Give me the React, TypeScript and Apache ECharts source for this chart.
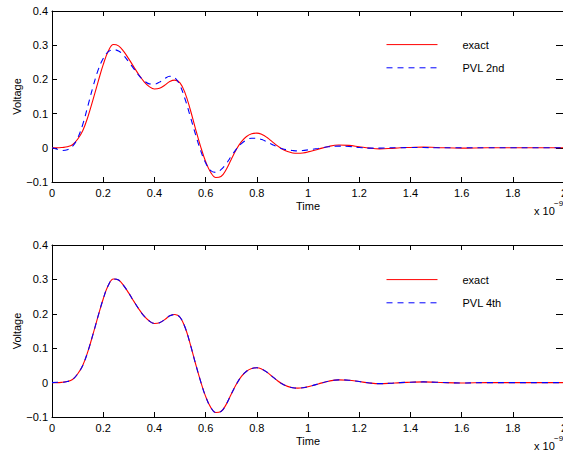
import React, { useEffect, useRef } from "react";
import * as echarts from "echarts";

// time axis (units of 1e-9 s)
const time = [
  0, 0.02, 0.04, 0.06, 0.08, 0.1, 0.12, 0.14, 0.16, 0.18,
  0.2, 0.22, 0.24, 0.26, 0.28, 0.3, 0.32, 0.34, 0.36, 0.38,
  0.4, 0.42, 0.44, 0.46, 0.48, 0.5, 0.52, 0.54, 0.56, 0.58,
  0.6, 0.62, 0.64, 0.66, 0.68, 0.7, 0.72, 0.74, 0.76, 0.78,
  0.8, 0.82, 0.84, 0.86, 0.88, 0.9, 0.92, 0.94, 0.96, 0.98,
  1.0, 1.04, 1.08, 1.12, 1.16, 1.2, 1.24, 1.28, 1.32, 1.36,
  1.4, 1.45, 1.5, 1.6, 1.7, 1.8, 1.9, 2.0,
];

const exactTop = [
  0, 0.0, 0.001, 0.003, 0.009, 0.025, 0.05, 0.09, 0.14, 0.193,
  0.243, 0.283, 0.302, 0.298, 0.282, 0.26, 0.236, 0.213, 0.193, 0.179,
  0.172, 0.174, 0.183, 0.194, 0.198, 0.19, 0.16, 0.112, 0.057, 0.005,
  -0.04, -0.072, -0.087, -0.084, -0.064, -0.034, -0.005, 0.018, 0.033, 0.041,
  0.043, 0.039, 0.03, 0.018, 0.006, -0.004, -0.011, -0.015, -0.016, -0.015,
  -0.012, -0.004, 0.004, 0.008, 0.007, 0.003, -0.001, -0.003, -0.002, 0.0,
  0.001, 0.002, 0.001, -0.001, 0.0, 0.0, 0.0, 0.0,
];

const pvl2nd = [
  0, -0.004, -0.008, -0.006, 0.004, 0.028, 0.068, 0.122, 0.178, 0.227,
  0.261, 0.281, 0.287, 0.283, 0.27, 0.251, 0.231, 0.211, 0.196, 0.187,
  0.186, 0.192, 0.202, 0.209, 0.205, 0.182, 0.142, 0.092, 0.041, -0.007,
  -0.044, -0.067, -0.072, -0.064, -0.047, -0.025, -0.004, 0.012, 0.023, 0.028,
  0.028, 0.024, 0.017, 0.01, 0.003, -0.003, -0.006, -0.008, -0.009, -0.008,
  -0.006, -0.002, 0.003, 0.005, 0.004, 0.001, -0.001, -0.001, 0.0, 0.0,
  0.001, 0.001, 0.0, 0.0, 0.0, 0.0, 0.0, 0.0,
];

const exactBottom = [
  0, 0.0, 0.001, 0.003, 0.009, 0.025, 0.05, 0.09, 0.14, 0.193,
  0.243, 0.283, 0.301, 0.298, 0.282, 0.26, 0.236, 0.213, 0.193, 0.179,
  0.172, 0.174, 0.183, 0.194, 0.198, 0.19, 0.16, 0.112, 0.057, 0.005,
  -0.04, -0.072, -0.087, -0.084, -0.064, -0.034, -0.005, 0.018, 0.033, 0.041,
  0.043, 0.039, 0.03, 0.018, 0.006, -0.004, -0.011, -0.015, -0.016, -0.015,
  -0.012, -0.004, 0.004, 0.008, 0.007, 0.003, -0.001, -0.003, -0.002, 0.0,
  0.001, 0.002, 0.001, -0.001, 0.0, 0.0, 0.0, 0.0,
];

const pvl4th = [
  0, 0.001, 0.001, 0.003, 0.009, 0.025, 0.05, 0.09, 0.14, 0.193,
  0.243, 0.283, 0.301, 0.298, 0.282, 0.26, 0.236, 0.213, 0.193, 0.179,
  0.172, 0.174, 0.183, 0.194, 0.198, 0.19, 0.16, 0.112, 0.057, 0.005,
  -0.04, -0.072, -0.087, -0.084, -0.064, -0.034, -0.005, 0.018, 0.033, 0.041,
  0.043, 0.039, 0.03, 0.018, 0.006, -0.004, -0.011, -0.015, -0.016, -0.015,
  -0.012, -0.004, 0.004, 0.008, 0.007, 0.003, -0.001, -0.003, -0.002, 0.0,
  0.001, 0.002, 0.001, -0.001, 0.0, 0.0, 0.0, 0.0,
];

const legendTop = ["exact", "PVL 2nd"];
const legendBottom = ["exact", "PVL 4th"];

const FONT = "'Liberation Sans', Arial, Helvetica, sans-serif";

const fmtY = (v: number) => {
  const s = Math.abs(v) < 1e-9 ? "0" : String(+v.toFixed(1));
  return s.replace("-", "\u2212");
};
const fmtX = (v: number) => String(+v.toFixed(1));

const tickStyle = (len: number) => ({ show: true, inside: true, length: len, lineStyle: { color: "#000", width: 1 } });
const lineStyleAxis = { show: true, onZero: false, lineStyle: { color: "#000", width: 1 } };

function makeAxes(gi: number) {
  const x = [
    {
      type: "value",
      gridIndex: gi,
      position: "bottom",
      min: 0,
      max: 2,
      interval: 0.2,
      axisLine: lineStyleAxis,
      axisTick: tickStyle(5),
      splitLine: { show: false },
      axisLabel: { color: "#000", fontSize: 11, fontFamily: FONT, margin: 5, formatter: fmtX },
      name: "Time",
      nameLocation: "middle",
      nameGap: 24,
      nameMoveOverlap: false,
      nameTextStyle: { color: "#000", fontSize: 11, fontFamily: FONT, verticalAlign: "middle" },
    },
    {
      type: "value",
      gridIndex: gi,
      position: "top",
      min: 0,
      max: 2,
      interval: 0.2,
      axisLine: lineStyleAxis,
      axisTick: tickStyle(5),
      splitLine: { show: false },
      axisLabel: { show: false },
    },
  ];
  const y = [
    {
      type: "value",
      gridIndex: gi,
      position: "left",
      min: -0.1,
      max: 0.4,
      interval: 0.1,
      axisLine: lineStyleAxis,
      axisTick: tickStyle(5),
      splitLine: { show: false },
      axisLabel: { color: "#000", fontSize: 11, fontFamily: FONT, margin: 4, formatter: fmtY },
      name: "Voltage",
      nameLocation: "middle",
      nameGap: 35,
      nameMoveOverlap: false,
      nameTextStyle: { color: "#000", fontSize: 11, fontFamily: FONT, verticalAlign: "middle", align: "center" },
    },
    {
      type: "value",
      gridIndex: gi,
      position: "right",
      min: -0.1,
      max: 0.4,
      interval: 0.1,
      axisLine: lineStyleAxis,
      axisTick: tickStyle(8),
      splitLine: { show: false },
      axisLabel: { show: false },
    },
  ];
  return { x, y };
}

function makeLegend(top: number, data: string[]) {
  return {
    orient: "vertical",
    left: 386,
    top,
    padding: 0,
    itemWidth: 51,
    itemHeight: 14,
    itemGap: 12,
    selectedMode: false,
    data,
    itemStyle: { opacity: 0 },
    lineStyle: { width: 1 },
    textStyle: { color: "#000", fontSize: 11, fontFamily: FONT, padding: [0, 0, 0, 20] },
  };
}

function line(name: string, values: number[], xi: number, yi: number, color: string, dashed: boolean) {
  return {
    type: "line",
    name,
    xAxisIndex: xi,
    yAxisIndex: yi,
    data: time.map((t, i) => [t, values[i]]),
    symbol: "none",
    showSymbol: false,
    smooth: 0.4,
    lineStyle: { color, width: 1.1, type: dashed ? [6, 5] : "solid" },
    itemStyle: { color },
  };
}

export default function App() {
  const ref = useRef<HTMLDivElement>(null);
  useEffect(() => {
    if (!ref.current) return;
    const chart = echarts.init(ref.current, undefined, { renderer: "svg" });
    const a0 = makeAxes(0);
    const a1 = makeAxes(1);
    const option: any = {
      animation: false,
      backgroundColor: "#fff",
      grid: [
        { left: 52, top: 11, width: 512, height: 171, outerBoundsMode: "none", containLabel: false },
        { left: 52, top: 245, width: 512, height: 172, outerBoundsMode: "none", containLabel: false },
      ],
      xAxis: [...a0.x, ...a1.x],
      yAxis: [...a0.y, ...a1.y],
      legend: [makeLegend(39, legendTop), makeLegend(274, legendBottom)],
      series: [
        line("exact", exactTop, 0, 0, "#ff0000", false),
        line("PVL 2nd", pvl2nd, 0, 0, "#0000ff", true),
        line("exact", exactBottom, 2, 2, "#ff0000", false),
        line("PVL 4th", pvl4th, 2, 2, "#0000ff", true),
      ],
      graphic: [
        { type: "text", left: 534, top: 205, style: { text: "x 10", fontSize: 11, fontFamily: FONT, fill: "#000" } },
        { type: "text", left: 554, top: 199, style: { text: "\u22129", fontSize: 8, fontFamily: FONT, fill: "#000" } },
        { type: "text", left: 534, top: 440, style: { text: "x 10", fontSize: 11, fontFamily: FONT, fill: "#000" } },
        { type: "text", left: 554, top: 434, style: { text: "\u22129", fontSize: 8, fontFamily: FONT, fill: "#000" } },
      ],
    };
    chart.setOption(option);
    return () => chart.dispose();
  }, []);
  return (
    <div
      ref={ref}
      style={{ position: "fixed", left: 0, top: 0, width: 563, height: 453, background: "#fff" }}
    />
  );
}
